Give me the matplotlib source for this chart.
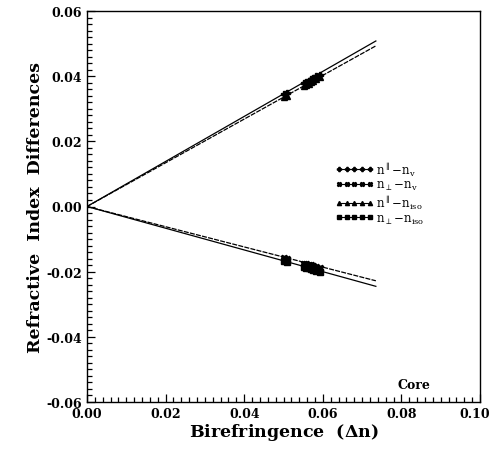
import matplotlib
matplotlib.use("Agg")
import matplotlib.pyplot as plt
from matplotlib.ticker import MultipleLocator, FuncFormatter, FormatStrFormatter

# Data
dn = [0.0502, 0.0508, 0.0552, 0.0558, 0.0564, 0.0570, 0.0576, 0.0583, 0.0592]
par_v   = [0.0345, 0.0348, 0.0378, 0.0382, 0.0386, 0.0390, 0.0394, 0.0399, 0.0405]
perp_v  = [-0.0158, -0.0161, -0.0175, -0.0177, -0.0179, -0.0181, -0.0183, -0.0185, -0.0188]
par_iso = [0.0336, 0.0340, 0.0369, 0.0373, 0.0377, 0.0381, 0.0385, 0.0390, 0.0396]
perp_iso = [-0.0168, -0.0171, -0.0186, -0.0188, -0.0190, -0.0192, -0.0194, -0.0197, -0.0200]

fit_x = [0.0, 0.0735]
fit_par_v = [0.0, 0.0508]
fit_par_iso = [0.0, 0.0493]
fit_perp_v = [0.0, -0.0228]
fit_perp_iso = [0.0, -0.0245]

labels = [r'$\mathrm{n^{\parallel}\!-\!n_{v}}$', r'$\mathrm{n_{\perp}\!-\!n_{v}}$',
          r'$\mathrm{n^{\parallel}\!-\!n_{iso}}$', r'$\mathrm{n_{\perp}\!-\!n_{iso}}$']
markers = ['P', 'X', '^', 's']

plt.rcParams['font.family'] = ['DejaVu Serif']
plt.rcParams['mathtext.fontset'] = 'dejavuserif'

fig = plt.figure(figsize=(4.92, 4.52), dpi=100)
ax = fig.add_axes([87/492, 1-403/452, (480-87)/492, (403-12)/452])

ax.plot(fit_x, fit_par_v, color='black', lw=0.9)
ax.plot(fit_x, fit_par_iso, color='black', lw=0.9, dashes=(4, 1))
ax.plot(fit_x, fit_perp_v, color='black', lw=0.9, dashes=(4, 1))
ax.plot(fit_x, fit_perp_iso, color='black', lw=0.9)

series = [par_v, perp_v, par_iso, perp_iso]
handles = []
for s, m, lab in zip(series, markers, labels):
    ax.plot(dn, s, linestyle='none', marker=m, ms=4.5, color='black')
    h, = ax.plot([], [], color='black', lw=0.8, marker=m, ms=3, label=lab)
    handles.append(h)

leg = ax.legend(handles=handles, loc='upper left', bbox_to_anchor=(0.617, 0.635),
                frameon=False, numpoints=5, handlelength=3.2, handletextpad=0.2,
                labelspacing=0.05, fontsize=8.5, borderpad=0)

ax.text(0.079, -0.0545, 'Core', fontsize=9, fontweight='bold', ha='left', va='center')

xmax = 0.10
ax.set_xlim(0.0, xmax)
ax.set_ylim(-0.06, 0.06)
ax.xaxis.set_major_locator(MultipleLocator(0.02))
ax.xaxis.set_minor_locator(MultipleLocator(0.002))
ax.yaxis.set_major_locator(MultipleLocator(0.02))
ax.yaxis.set_minor_locator(MultipleLocator(0.002))
# last x label drawn separately so it stays inside the figure
ax.xaxis.set_major_formatter(FuncFormatter(lambda v, p: '' if abs(v - xmax) < 1e-9 else '%.2f' % v))
ax.yaxis.set_major_formatter(FormatStrFormatter('%.2f'))
ax.tick_params(which='both', direction='in', top=False, right=False, width=0.9)
ax.tick_params(which='major', length=6, labelsize=9)
ax.tick_params(which='minor', length=3.5)
for sp in ax.spines.values():
    sp.set_linewidth(1.0)
ax.annotate('%.2f' % xmax, xy=(xmax, 0), xycoords=('data', 'axes fraction'),
            xytext=(-4, -3.5), textcoords='offset points', ha='center', va='top',
            fontsize=9, fontweight='bold', annotation_clip=False)

ax.set_xlabel(r'Birefringence  ($\mathbf{\Delta}$n)', fontsize=12.5, fontweight='bold', labelpad=1)
ax.set_ylabel('Refractive  Index  Differences', fontsize=12.5, fontweight='bold', labelpad=2)

fig.canvas.draw()
for t in ax.get_xticklabels() + ax.get_yticklabels():
    t.set_fontweight('bold')

fig.savefig('out.png', dpi=100)
